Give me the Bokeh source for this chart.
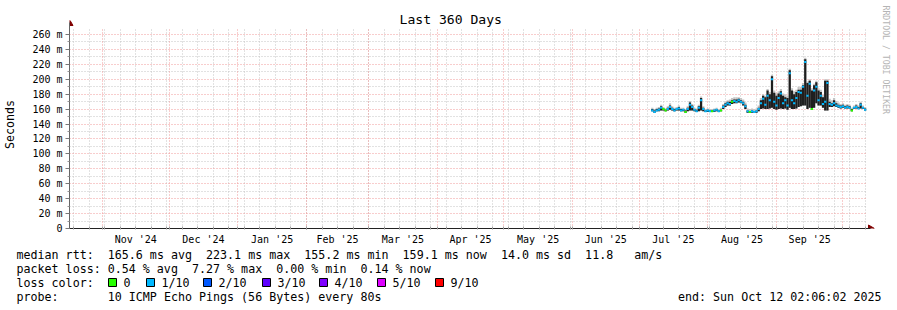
import re
import pandas as pd
from bokeh.plotting import figure
from bokeh.layouts import column
from bokeh.models import Range1d, FixedTicker, Grid, Title, ColumnDataSource
from bokeh.core.properties import value
from bokeh.embed import file_html
from bokeh.resources import INLINE

FONT = "DejaVu Sans Mono"

# ---------------- data ----------------
title_text = "Last 360 Days"
y_label = "Seconds"
range_start = "2024-10-17 02:06:02"
range_end = "2025-10-12 02:06:02"
first_sample = "2025-07-07"          # one consolidated sample per day from here

median = [158, 156, 158, 159, 162, 160, 158, 160, 163, 160,
          158, 160, 161, 158, 159, 156, 160, 166, 163, 159,
          157, 162, 172, 160, 157, 158, 157, 157, 158, 159,
          157, 158, 163, 166, 168, 167, 170, 171, 170, 172,
          170, 168, 164, 157, 156, 157, 156, 157, 160, 168,
          174, 166, 178, 172, 200, 170, 165, 175, 181, 168,
          172, 165, 208, 172, 168, 175, 183, 182, 190, 223,
          178, 194, 160, 185, 190, 172, 178, 167, 170, 195,
          167, 166, 168, 165, 164, 163, 164, 162, 163, 162,
          158, 162, 163, 161, 166, 162, 159]
smoke_lo = [157, 155, 157, 157, 158, 158, 157, 158, 159, 158,
            157, 158, 158, 157, 157, 155, 157, 158, 158, 157,
            156, 157, 158, 157, 156, 156, 156, 156, 156, 157,
            156, 157, 160, 163, 165, 165, 167, 168, 168, 169,
            168, 165, 160, 155, 155, 155, 155, 155, 157, 160,
            161, 160, 160, 161, 162, 160, 159, 160, 161, 160,
            161, 159, 162, 160, 160, 161, 163, 164, 165, 165,
            160, 162, 159, 162, 168, 165, 165, 162, 158, 158,
            163, 163, 164, 163, 162, 161, 162, 161, 161, 161,
            157, 160, 161, 160, 161, 160, 158]
smoke_hi = [160, 158, 160, 161, 164, 161, 159, 162, 165, 162,
            160, 161, 163, 160, 160, 158, 162, 169, 165, 160,
            159, 164, 175, 162, 158, 159, 158, 158, 159, 160,
            158, 159, 165, 168, 170, 170, 172, 173, 173, 174,
            172, 170, 166, 158, 157, 158, 157, 158, 162, 172,
            178, 176, 185, 180, 204, 182, 178, 181, 184, 178,
            176, 175, 212, 185, 180, 183, 186, 186, 192, 227,
            195, 198, 185, 192, 196, 185, 183, 176, 198, 198,
            170, 168, 172, 168, 166, 165, 166, 164, 165, 164,
            160, 163, 165, 163, 168, 163, 161]
smoke_max = [162, 160, 162, 163, 166, 163, 161, 164, 168, 164,
             162, 163, 165, 162, 162, 160, 164, 171, 167, 162,
             161, 166, 177, 164, 160, 161, 160, 160, 161, 162,
             160, 162, 167, 170, 172, 173, 175, 176, 176, 176,
             175, 173, 169, 161, 160, 161, 160, 161, 165, 175,
             180, 178, 187, 183, 206, 185, 181, 184, 187, 181,
             180, 178, 214, 188, 184, 186, 190, 190, 195, 229,
             197, 200, 188, 194, 198, 188, 186, 179, 200, 200,
             174, 172, 175, 171, 169, 167, 168, 166, 167, 166,
             162, 165, 167, 165, 170, 165, 163]
loss = [1, 1, 1, 1, 1, 0, 0, 1, 1, 1,
        1, 1, 1, 1, 1, 0, 1, 1, 1, 1,
        1, 1, 1, 1, 1, 1, 1, 0, 1, 1,
        1, 0, 1, 1, 1, 1, 0, 1, 1, 1,
        1, 1, 1, 1, 0, 1, 1, 1, 1, 1,
        1, 1, 1, 1, 1, 1, 1, 1, 1, 1,
        1, 1, 1, 1, 1, 1, 1, 1, 1, 1,
        1, 1, 0, 1, 1, 1, 1, 1, 1, 1,
        1, 1, 1, 1, 1, 1, 1, 1, 1, 1,
        0, 1, 1, 1, 1, 1, 1]

loss_labels = ["0", "1/10", "2/10", "3/10", "4/10", "5/10", "9/10"]
loss_colors = ["#26ff00", "#00b8ff", "#0059ff", "#5e00ff", "#7e00ff", "#dd00ff", "#ff0000"]

y_ticks = list(range(0, 261, 20))
y_minor = list(range(10, 270, 20))
y_tick_labels = ["0"] + [f"{v} m" for v in y_ticks[1:]]
y_grid_top = 269.4

month_labels = ["Nov '24", "Dec '24", "Jan '25", "Feb '25", "Mar '25", "Apr '25",
                "May '25", "Jun '25", "Jul '25", "Aug '25", "Sep '25"]
month_starts = pd.date_range("2024-11-01", "2025-10-01", freq="MS")
week_lines = pd.date_range("2024-10-19", "2025-10-11", freq="7D")

rtt_line = "median rtt:  165.6 ms avg  223.1 ms max  155.2 ms min  159.1 ms now  14.0 ms sd  11.8   am/s"
loss_line = "packet loss: 0.54 % avg  7.27 % max  0.00 % min  0.14 % now"
loss_title = "loss color:"
probe_line = "probe:       10 ICMP Echo Pings (56 Bytes) every 80s"
end_text = "end: Sun Oct 12 02:06:02 2025"
credit = "RRDTOOL / TOBI OETIKER"

# ---------------- helpers ----------------
def ms(ts):
    return int(pd.Timestamp(ts).value // 10**6)

DAY = 86400000
x0, x1 = ms(range_start), ms(range_end)
dates = pd.date_range(first_sample, periods=len(median), freq="D")
xs = [ms(d) for d in dates]
month_ms = [ms(d) for d in month_starts]
week_ms = [ms(d) for d in week_lines]
month_mid = [(month_ms[i] + month_ms[i + 1]) // 2 for i in range(len(month_labels))]

# canvas geometry of the graph area: x 67..867 <-> x0..x1, y 228..27 <-> 0..269.4
GL, GR, GB = 67, 867, 228
VPP = y_grid_top / 201.0
def X(cx):
    return x0 + (cx - GL) / (GR - GL) * (x1 - x0)
def Y(cy):
    return (GB - cy) * VPP

MAIN_H = 248
p = figure(width=897, height=MAIN_H, output_backend="svg", toolbar_location=None,
           title=None,
           x_range=Range1d(x0, X(874)), y_range=Range1d(0, Y(20)),
           min_border_left=67, min_border_right=23, min_border_top=20,
           min_border_bottom=MAIN_H - GB)
p.outline_line_color = None
p.background_fill_color = "white"
p.border_fill_color = "white"

has_cb = "cross_bounds" in Grid.properties()

# grids
xg = p.xgrid[0]
xg.ticker = FixedTicker(ticks=week_ms)
xg.grid_line_color = "#c4c4c4"
xg.grid_line_dash = "1 2"
mg = Grid(dimension=0, ticker=FixedTicker(ticks=month_ms),
          grid_line_color="#f09a9a", grid_line_dash="1 2")
p.add_layout(mg, "center")
yg = p.ygrid[0]
yg.ticker = FixedTicker(ticks=y_ticks, minor_ticks=y_minor)
yg.grid_line_color = "#f09a9a"
yg.grid_line_dash = "1 2"
yg.minor_grid_line_color = "#c4c4c4"
yg.minor_grid_line_dash = "1 2"
if has_cb:
    xg.cross_bounds = (0, y_grid_top)
    mg.cross_bounds = (0, y_grid_top)
    yg.cross_bounds = (x0, x1)

# x axis
xa = p.xaxis[0]
xa.ticker = FixedTicker(ticks=month_mid, minor_ticks=week_ms + month_ms)
xa.major_label_overrides = {k: v for k, v in zip(month_mid, month_labels)}
xa.major_tick_line_color = None
xa.major_tick_in = 0
xa.major_tick_out = 0
xa.minor_tick_in = 2
xa.minor_tick_out = 1
xa.minor_tick_line_color = "#999999"
xa.axis_line_color = "#222222"
xa.bounds = (x0, X(870))
xa.major_label_text_font = FONT
xa.major_label_text_font_size = "10px"
xa.major_label_text_color = "#000000"
xa.major_label_standoff = 4

# y axis
ya = p.yaxis[0]
ya.ticker = FixedTicker(ticks=y_ticks, minor_ticks=y_minor)
ya.major_label_overrides = {k: v for k, v in zip(y_ticks, y_tick_labels)}
ya.bounds = (0, Y(22))
ya.major_tick_in = 0
ya.major_tick_out = 4
ya.minor_tick_in = 0
ya.minor_tick_out = 2
ya.major_tick_line_color = "#777777"
ya.minor_tick_line_color = "#999999"
ya.axis_line_color = "#666666"
ya.major_label_text_font = FONT
ya.major_label_text_font_size = "10px"
ya.major_label_text_color = "#000000"
ya.major_label_standoff = 3
ya.axis_label = y_label
ya.axis_label_text_font = FONT
ya.axis_label_text_font_size = "11.6px"
ya.axis_label_text_font_style = "normal"
ya.axis_label_text_color = "#000000"
ya.axis_label_standoff = 12

# titles
p.add_layout(Title(text=title_text, align="left", offset=330, standoff=-12,
                   vertical_align="bottom", text_font=FONT, text_font_size="13.1px",
                   text_font_style="normal", text_color="#000000"), "above")
p.add_layout(Title(text=credit, align="left", offset=-15, standoff=10,
                   vertical_align="middle", text_font=FONT, text_font_size="8.2px",
                   text_font_style="normal", text_color="#b4b4b4"), "right")

# data
src = ColumnDataSource(dict(x=xs, median=median, lo=smoke_lo, hi=smoke_hi, top=smoke_max))
p.vbar(x="x", bottom="lo", top="top", width=DAY, source=src,
       fill_color="#c4c4c4", line_color=None)
p.vbar(x="x", bottom="lo", top="hi", width=DAY, source=src,
       fill_color="#1e1e1e", line_color=None)
seg = ColumnDataSource(dict(x0=[x - DAY // 2 for x in xs], x1=[x + DAY // 2 for x in xs],
                            y=median, c=[loss_colors[l] for l in loss]))
p.segment(x0="x0", y0="y", x1="x1", y1="y", color="c", line_width=2, source=seg)

# axis arrows
p.scatter(x=[x0], y=[Y(23)], marker="triangle", size=7, color="#800000")
p.scatter(x=[X(870)], y=[0], marker="triangle", angle=-1.5708, size=7, color="#800000")

# ---------------- legend strip ----------------
LEG_H = 310 - MAIN_H
q = figure(width=897, height=LEG_H, output_backend="svg", toolbar_location=None,
           title=None, x_range=Range1d(0, 897), y_range=Range1d(LEG_H, 0),
           min_border=0, x_axis_location=None, y_axis_location=None)
q.outline_line_color = None
q.xgrid.visible = False
q.ygrid.visible = False
for fig in (p, q):
    if "frame_align" in fig.properties():
        fig.frame_align = False

CW = 7.02          # advance of one monospace cell at 11.66px
TX0 = 16           # left edge of the legend text block
def row_y(cy):
    return cy - MAIN_H

def fields(line):
    return [(m.start(), m.group()) for m in re.finditer(r"\S+(?: \S+)*", line)]

tx, ty, tt = [], [], []
for line, cy in ((rtt_line, 254), (loss_line, 268), (loss_title, 282), (probe_line, 296)):
    for col, txt in fields(line):
        tx.append(TX0 + col * CW)
        ty.append(row_y(cy))
        tt.append(txt)

box_x = [108, 146, 203, 262, 319, 377, 435]
tx += [b + 15 for b in box_x]
ty += [row_y(282)] * len(box_x)
tt += loss_labels

q.text(x=tx, y=ty, text=tt, text_font=value(FONT),
       text_font_size="11.66px", text_color="#000000",
       text_align="left", text_baseline="middle")
q.text(x=[881], y=[row_y(296)], text=[end_text], text_font=value(FONT),
       text_font_size="11.66px", text_color="#000000",
       text_align="right", text_baseline="middle")
q.quad(left=box_x, right=[b + 8 for b in box_x],
       top=[row_y(278)] * len(box_x), bottom=[row_y(286)] * len(box_x),
       fill_color=loss_colors, line_color="#000000", line_width=1)

layout = column(p, q, spacing=0)
open("out.html", "w").write(file_html(layout, INLINE))
